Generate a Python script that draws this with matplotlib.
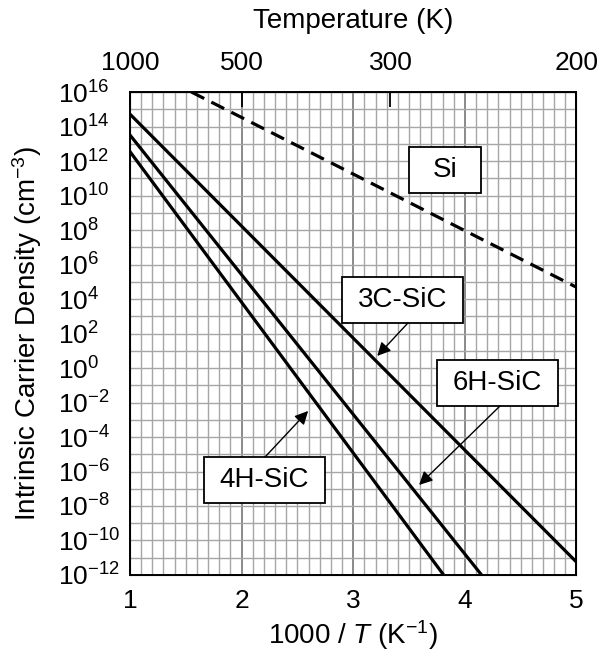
"""Intrinsic carrier density vs 1000/T for Si and SiC polytypes"""
import numpy as np
import matplotlib
matplotlib.use('Agg')
import matplotlib.pyplot as plt
from matplotlib.patches import Rectangle

plt.rcParams['font.family'] = ['Liberation Sans', 'DejaVu Sans']
plt.rcParams['mathtext.fontset'] = 'custom'
plt.rcParams['mathtext.rm'] = 'Liberation Sans'
plt.rcParams['mathtext.it'] = 'Liberation Sans:italic'
plt.rcParams['mathtext.default'] = 'regular'

# data (x = 1000/T, n in cm^-3)
si_x = [1.55, 5.0]
si_n = [1e16, 4.8e4]
c3_x = [1.0, 5.0]
c3_n = [5.2e14, 5.6e-12]
h6_x = [1.0, 4.15]
h6_n = [3.2e13, 1e-12]
h4_x = [1.0, 3.81]
h4_n = [3.5e12, 1e-12]

temps = [1000, 500, 300, 200]
ydecades = list(range(-12, 17, 2))

fig = plt.figure(figsize=(6.06, 6.54), dpi=100)
ax = fig.add_axes([0.2145, 0.1208, 0.7368, 0.7385])

ax.plot(si_x, si_n, color='black', lw=2.3, ls=(0, (4.5, 2.5)))
ax.plot(c3_x, c3_n, color='black', lw=2.3)
ax.plot(h6_x, h6_n, color='black', lw=2.3)
ax.plot(h4_x, h4_n, color='black', lw=2.3)

ax.set_yscale('log')
ax.set_xlim(1, 5)
ax.set_ylim(1e-12, 1e16)
ax.set_xticks([1, 2, 3, 4, 5])
ax.set_xticks(np.arange(1, 5.001, 0.1), minor=True)
ax.set_yticks([10.0**k for k in ydecades])
ax.set_yticklabels([r'$10^{%d}$' % k for k in ydecades])
ax.set_yticks([10.0**k for k in range(-11, 16, 2)], minor=True)
ax.set_yticklabels([], minor=True)
ax.grid(True, which='minor', axis='x', color='#a6a6a6', lw=1.0)
ax.grid(True, which='major', axis='x', color='#777777', lw=1.2)
ax.grid(True, which='both', axis='y', color='#a6a6a6', lw=1.0)
ax.set_axisbelow(True)
ax.tick_params(which='both', length=0, labelsize=19)
ax.tick_params(axis='x', pad=10)
ax.tick_params(axis='y', pad=52)
for lab in ax.get_yticklabels():
    lab.set_horizontalalignment('left')
for s in ax.spines.values():
    s.set_linewidth(1.4)

ax.set_xlabel(r'1000 / $\mathit{T}$ (K$^{-1}$)', fontsize=20, labelpad=4)
ax.set_ylabel(r'Intrinsic Carrier Density (cm$^{-3}$)', fontsize=20, labelpad=10)

ax2 = ax.twiny()
ax2.set_xlim(ax.get_xlim())
ax2.set_xticks([1000 / t for t in temps])
ax2.set_xticklabels([str(t) for t in temps])
ax2.tick_params(direction='in', length=11, width=1.3, labelsize=19, pad=12)
ax2.set_xlabel('Temperature (K)', fontsize=20, labelpad=17)

# label boxes (axes fraction: x0, y0, w, h) and arrows (start -> tip, data)
boxes = {
    'Si': (0.625, 0.791, 0.161, 0.095),
    '3C-SiC': (0.475, 0.522, 0.271, 0.095),
    '6H-SiC': (0.688, 0.350, 0.271, 0.095),
    '4H-SiC': (0.166, 0.149, 0.271, 0.095),
}
arrows = {
    '3C-SiC': ((3.49, 10**2.61), (3.215, 10**0.70)),
    '6H-SiC': ((4.315, 10**-2.20), (3.59, 10**-6.78)),
    '4H-SiC': ((2.21, 10**-5.16), (2.596, 10**-2.49)),
}
for name, (bx, by, bw, bh) in boxes.items():
    ax.add_patch(Rectangle((bx, by), bw, bh, transform=ax.transAxes,
                           fc='white', ec='black', lw=1.3, zorder=4))
    ax.text(bx + bw / 2, by + bh / 2, name, transform=ax.transAxes,
            fontsize=20, ha='center', va='center', zorder=5)
for name, (start, tip) in arrows.items():
    ax.annotate('', xy=tip, xytext=start,
                arrowprops=dict(arrowstyle='-|>', color='black', lw=1.0,
                                mutation_scale=20, shrinkA=0, shrinkB=0),
                zorder=5)

plt.savefig('out.png', dpi=100)
